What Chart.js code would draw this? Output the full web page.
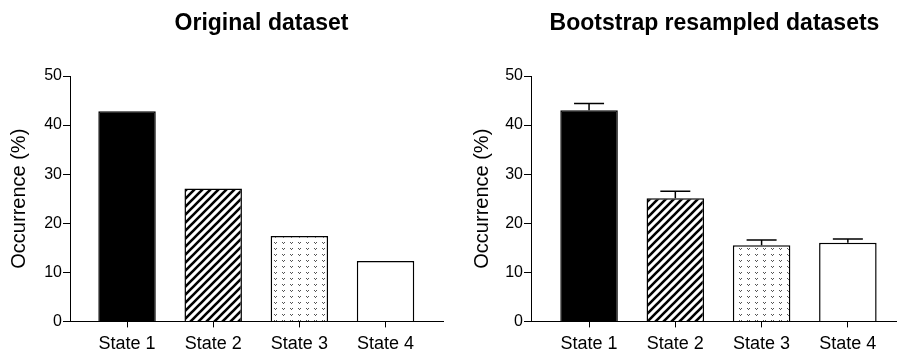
<!DOCTYPE html>
<html>
<head>
<meta charset="utf-8">
<script src="https://cdn.jsdelivr.net/npm/chart.js@4.4.1/dist/chart.umd.min.js"></script>
<style>
  html, body { margin: 0; padding: 0; background: #fff; }
  #wrap { position: relative; width: 898px; height: 364px; }
  .panel { position: absolute; top: 0; width: 449px; height: 364px; }
</style>
</head>
<body>
<div id="wrap">
  <div class="panel" style="left:0"><canvas id="original"></canvas></div>
  <div class="panel" style="left:449px"><canvas id="bootstrap"></canvas></div>
</div>
<script>
// data
const categories = ['State 1', 'State 2', 'State 3', 'State 4'];
const originalValues = [42.8, 27.1, 17.4, 12.3];
const bootstrapMeans = [43.0, 25.1, 15.5, 16.0];
const bootstrapUpper = [44.4, 26.5, 16.6, 16.8];
const yTicks = [0, 10, 20, 30, 40, 50];

const FONT = '"Liberation Sans", Arial, sans-serif';

// fill patterns (stripes / small dots) like the prism-style bars
function stripes() {
  const c = document.createElement('canvas');
  c.width = 8; c.height = 8;
  const g = c.getContext('2d');
  g.fillStyle = '#fff';
  g.fillRect(0, 0, 8, 8);
  g.strokeStyle = '#000';
  g.lineWidth = 2.6;
  g.beginPath();
  g.moveTo(-2, 10); g.lineTo(10, -2);
  g.moveTo(-2, 2); g.lineTo(2, -2);
  g.moveTo(6, 10); g.lineTo(10, 6);
  g.stroke();
  return g.createPattern(c, 'repeat');
}

function dots() {
  const c = document.createElement('canvas');
  c.width = 8; c.height = 6;
  const g = c.getContext('2d');
  g.fillStyle = '#fff';
  g.fillRect(0, 0, 8, 6);
  g.fillStyle = '#555';
  g.fillRect(2, 2, 1, 1);
  g.fillRect(4, 2, 1, 1);
  g.fillRect(3, 3, 1, 1);
  return g.createPattern(c, 'repeat');
}

const fills = ['#000', stripes(), dots(), '#fff'];

const errorBars = {
  id: 'errorBars',
  afterDatasetsDraw(chart, args, opts) {
    if (!opts.upper) return;
    const { ctx, scales: { x, y } } = chart;
    ctx.save();
    ctx.strokeStyle = '#000';
    ctx.lineWidth = 1.5;
    opts.upper.forEach((u, i) => {
      const px = x.getPixelForValue(i + 1);
      const top = y.getPixelForValue(u);
      const base = y.getPixelForValue(opts.mean[i]);
      ctx.beginPath();
      ctx.moveTo(px, base);
      ctx.lineTo(px, top);
      ctx.moveTo(px - 15, top);
      ctx.lineTo(px + 15, top);
      ctx.stroke();
    });
    ctx.restore();
  }
};

const panelTitle = {
  id: 'panelTitle',
  afterDraw(chart, args, opts) {
    const { ctx, chartArea } = chart;
    ctx.save();
    ctx.font = 'bold 23px ' + FONT;
    ctx.fillStyle = '#000';
    ctx.textAlign = 'center';
    ctx.textBaseline = 'alphabetic';
    ctx.fillText(opts.text, (chartArea.left + chartArea.right) / 2 + opts.shift, 30);
    ctx.restore();
  }
};

function makeChart(id, o) {
  return new Chart(document.getElementById(id), {
    type: 'bar',
    data: {
      datasets: [{
        data: o.values.map((v, i) => ({ x: i + 1, y: v })),
        backgroundColor: fills,
        borderColor: '#000',
        borderWidth: 1.5,
        borderSkipped: 'bottom',
        barPercentage: 0.667,
        categoryPercentage: 1
      }]
    },
    options: {
      responsive: true,
      maintainAspectRatio: false,
      animation: false,
      layout: { padding: { top: 76, bottom: 3, left: 0, right: o.padRight } },
      plugins: {
        legend: { display: false },
        tooltip: { enabled: false },
        panelTitle: { text: o.title, shift: o.titleShift },
        errorBars: { upper: o.upper, mean: o.values }
      },
      scales: {
        x: {
          type: 'linear',
          min: o.xMin,
          max: o.xMax,
          offset: false,
          afterBuildTicks: s => { s.ticks = categories.map((c, i) => ({ value: i + 1 })); },
          grid: { offset: false, drawOnChartArea: false, tickLength: 6, color: '#000', lineWidth: 1 },
          border: { display: true, color: '#000', width: 1 },
          ticks: {
            padding: 6, color: '#000', autoSkip: false, maxRotation: 0,
            font: { size: 18, family: FONT },
            callback: v => categories[v - 1]
          }
        },
        y: {
          min: 0,
          max: 50,
          afterBuildTicks: s => { s.ticks = yTicks.map(v => ({ value: v })); },
          afterFit: s => { s.width = o.yWidth; },
          grid: { drawOnChartArea: false, tickLength: 7, color: '#000', lineWidth: 1 },
          border: { display: true, color: '#000', width: 1 },
          ticks: { padding: 1, color: '#000', font: { size: 16, family: FONT } },
          title: {
            display: true, text: 'Occurrence (%)', color: '#000',
            font: { size: 20, family: FONT },
            padding: { top: o.titlePad, bottom: 0 }
          }
        }
      }
    },
    plugins: [errorBars, panelTitle]
  });
}

makeChart('original', {
  title: 'Original dataset', titleShift: 5,
  values: originalValues, upper: null,
  xMin: 0.338, xMax: 4.667, yWidth: 70, titlePad: 7, padRight: 6
});

makeChart('bootstrap', {
  title: 'Bootstrap resampled datasets', titleShift: 1,
  values: bootstrapMeans, upper: bootstrapUpper,
  xMin: 0.327, xMax: 4.558, yWidth: 82, titlePad: 21, padRight: 2
});
</script>
</body>
</html>
